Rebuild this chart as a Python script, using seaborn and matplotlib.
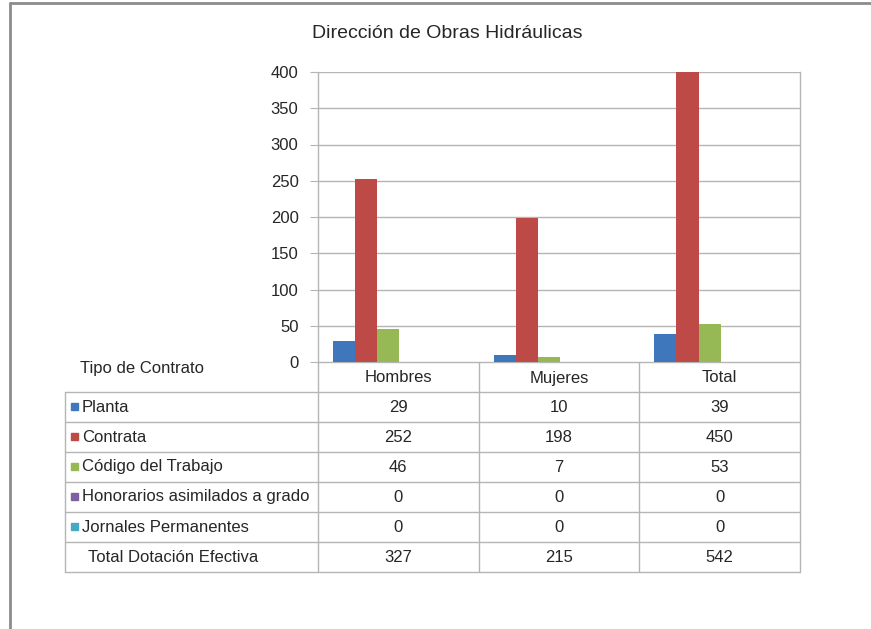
import pandas as pd
import seaborn as sns
import matplotlib.pyplot as plt
from matplotlib.lines import Line2D

# Datos: dotación efectiva por tipo de contrato
categorias = ["Hombres", "Mujeres", "Total"]
tipos = ["Planta", "Contrata", "Código del Trabajo",
         "Honorarios asimilados a grado", "Jornales Permanentes"]
planta = [29, 10, 39]
contrata = [252, 198, 450]
codigo_trabajo = [46, 7, 53]
honorarios = [0, 0, 0]
jornales = [0, 0, 0]
total_dotacion = [327, 215, 542]

colores = ["#3F77BD", "#BE4A47", "#96B955", "#7C62A1", "#45A9C4"]

series = [planta, contrata, codigo_trabajo, honorarios, jornales]
filas = []
for tipo, valores in zip(tipos, series):
    for cat, v in zip(categorias, valores):
        filas.append({"Categoria": cat, "Tipo": tipo, "Valor": v})
df = pd.DataFrame(filas)

sns.set_style("white")
plt.rcParams['font.family'] = ['Liberation Sans', 'DejaVu Sans']
texto = "#262626"
gris = "#b5b5b5"
fs = 12

W, H = 871, 629
fig = plt.figure(figsize=(W / 100, H / 100), dpi=100)

# area del grafico (pixeles)
x0, x1, y_top, y_cero = 318, 800, 72, 362
ax = fig.add_axes([x0 / W, 1 - y_cero / H, (x1 - x0) / W, (y_cero - y_top) / H])

sns.barplot(data=df, x="Categoria", y="Valor", hue="Tipo", order=categorias,
            hue_order=tipos, palette=colores, width=0.69, gap=0,
            saturation=1, legend=False, linewidth=0, ax=ax)

ax.set_ylim(0, 400)
ax.set_xlim(-0.438, 2.562)
ax.set_yticks(range(0, 401, 50))
ax.set_xticks([])
ax.set_xlabel("")
ax.set_ylabel("")
ax.yaxis.grid(True, color=gris, linewidth=1)
ax.set_axisbelow(True)
for lado in ["top", "bottom"]:
    ax.spines[lado].set_visible(False)
for lado in ["left", "right"]:
    ax.spines[lado].set_color(gris)
    ax.spines[lado].set_linewidth(1)
ax.tick_params(axis="y", length=6, color=gris, labelsize=fs,
               labelcolor=texto, pad=8, left=True)

# titulo
fig.text(447 / W, 1 - 33 / H, "Dirección de Obras Hidráulicas",
         ha="center", va="center", fontsize=14, color=texto)

# tabla de datos en coordenadas de pixeles
tab = fig.add_axes([0, 0, 1, 1], zorder=-1)
tab.set_xlim(0, W)
tab.set_ylim(H, 0)
tab.axis("off")

t_izq = 65
ancho_col = (x1 - x0) / 3
cols = [x0 + i * ancho_col for i in range(4)]
alto_fila = 30
y_enc = 392
filas_y = [y_enc + i * alto_fila for i in range(7)]

lk = dict(color=gris, linewidth=1)
# lineas verticales
tab.add_line(Line2D([t_izq, t_izq], [filas_y[0], filas_y[-1]], **lk))
for cx in cols:
    tab.add_line(Line2D([cx, cx], [y_cero, filas_y[-1]], **lk))
# lineas horizontales
tab.add_line(Line2D([x0, x1], [y_cero, y_cero], **lk))
for fy in filas_y:
    tab.add_line(Line2D([t_izq, x1], [fy, fy], **lk))

# encabezados
tab.text(80, 368, "Tipo de Contrato", ha="left", va="center",
         fontsize=fs, color=texto)
for i, cat in enumerate(categorias):
    tab.text((cols[i] + cols[i + 1]) / 2, 378, cat, ha="center", va="center",
             fontsize=fs, color=texto)

# filas
etiquetas = tipos + ["Total Dotación Efectiva"]
valores_tabla = series + [total_dotacion]
for r, (etq, vals) in enumerate(zip(etiquetas, valores_tabla)):
    yc = filas_y[r] + alto_fila / 2
    if r < len(colores):
        tab.add_patch(plt.Rectangle((71, yc - 4), 7, 7, color=colores[r]))
        tab.text(82, yc, etq, ha="left", va="center", fontsize=fs, color=texto)
    else:
        tab.text(88, yc, etq, ha="left", va="center", fontsize=fs, color=texto)
    for i, v in enumerate(vals):
        tab.text((cols[i] + cols[i + 1]) / 2, yc, str(v), ha="center",
                 va="center", fontsize=fs, color=texto)

# marco exterior
borde = dict(color="#8c8c8c", linewidth=2)
tab.add_line(Line2D([10, 10], [3, H], **borde))
tab.add_line(Line2D([10, W], [3, 3], **borde))

fig.savefig("out.png", dpi=100)
